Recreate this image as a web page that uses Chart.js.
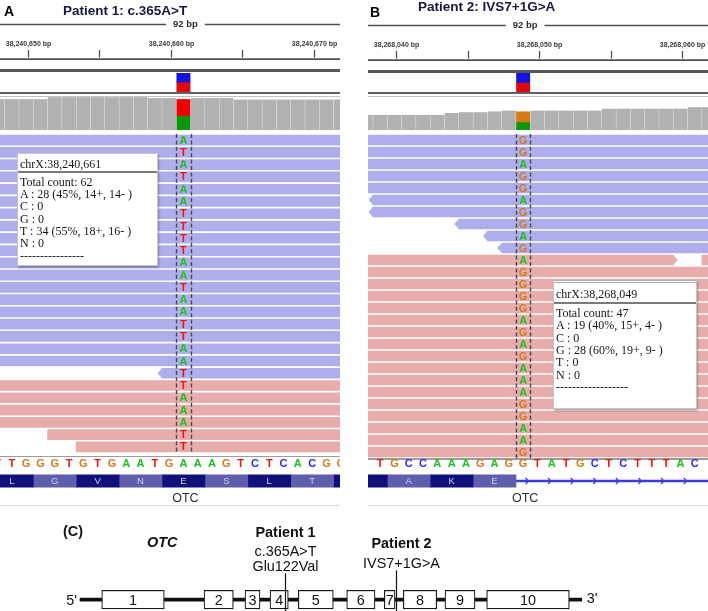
<!DOCTYPE html>
<html>
<head>
<meta charset="utf-8">
<title>OTC variants – IGV views</title>
<script src="https://cdn.jsdelivr.net/npm/chart.js@4.4.1/dist/chart.umd.min.js"></script>
<style>
html,body{margin:0;padding:0;background:#ffffff;}
#root{position:relative;width:708px;height:611px;overflow:hidden;font-family:"Liberation Sans",Arial,sans-serif;}
#root canvas{position:absolute;}
.tip{position:absolute;box-sizing:border-box;background:#fff;border:1px solid #c6c6c6;box-shadow:1px 2px 2px rgba(0,0,0,0.28);font-family:"Liberation Serif","Times New Roman",serif;font-size:12px;line-height:12.3px;color:#161616;white-space:nowrap;}
.tip .hd{border-bottom:2px solid #7a7a7a;}
</style>
</head>
<body>
<div id="root"></div>
<script>
// ======================= DATA =======================
// ---- Panel A : Patient 1, c.365A>T ----
const aTitle = "Patient 1: c.365A>T";
const aWindowLabel = "92 bp";
const aRulerTicks = [38240650, 38240655, 38240660, 38240665, 38240670];
const aVariantPos = 38240661;
const aVariantBand = [0.49, 0.51];           // red (alt) , blue (ref)
const aRefSeqStart = 38240648;
const aRefSeq = "TTGGGTGTGAATGAAAGTCTCACGG";
const aCoverageStart = 38240648;
const aCoverage = [62,62,62,62,66,66,66,66,66,66,66,64,64,62,64,64,64,61,61,61,61,61,61,61,61];
const aAlleles = ["A", "T"];
const aAlleleCounts = [28, 34];
const aReadRow = [0,1,2,3,4,5,6,7,8,9,10,11,12,13,14,15,16,17,18,19,20,21,22,23,24,25];
const aReadStart = [null,null,null,null,null,null,null,null,null,null,null,null,null,null,null,null,null,null,null,38240660,null,null,null,null,38240652,38240654];
const aReadEnd = [null,null,null,null,null,null,null,null,null,null,null,null,null,null,null,null,null,null,null,null,null,null,null,null,null,null];
const aReadStrand = "--------------------++++++";
const aRowBase = "ATATAATTTTAATAATTAATTAAATT";
const aCodonFirst = 38240648;
const aAminoAcids = ["L","G","V","N","E","S","L","T",""];
const aGeneName = "OTC";
const aTooltip = ["chrX:38,240,661","Total count: 62","A : 28 (45%, 14+, 14- )","C : 0","G : 0","T : 34 (55%, 18+, 16- )","N : 0","----------------"];

// ---- Panel B : Patient 2, IVS7+1G>A ----
const bTitle = "Patient 2: IVS7+1G>A";
const bWindowLabel = "92 bp";
const bRulerTicks = [38268040, 38268045, 38268050, 38268055, 38268060];
const bVariantPos = 38268049;
const bVariantBand = [0.47, 0.53];
const bRefSeqStart = 38268039;
const bRefSeq = "TGCCAAAGAGGTATGCTCTTTAC";
const bCoverageStart = 38268038;
const bCoverage = [38,38,38,38,38,38,43,45,45,47,49,47,49,49,49,49,49,54,54,54,54,54,54,58,58];
const bAlleles = ["A", "G"];
const bAlleleCounts = [19, 28];
const bReadRow = [0,1,2,3,4,5,6,7,8,9,10,11,12,13,14,15,16,17,18,19,20,21,22,23,24,25,26,10];
const bReadStart = [null,null,null,null,null,38268039,38268039,38268045,38268047,38268048,null,null,null,null,null,null,null,null,null,null,null,null,null,null,null,null,null,38268062];
const bReadEnd = [null,null,null,null,null,null,null,null,null,null,38268059,null,null,null,null,null,null,null,null,null,null,null,null,null,null,null,null,null];
const bReadStrand = "----------++++++++++++++++++";
const bRowBase = "GGAGGAGGAGAGGGGAGAGAAAGGAAG";
const bCodonFirst = 38268037;
const bAminoAcids = ["","A","K","E"];
const bExonLastBase = 38268048;
const bGeneName = "OTC";
const bTooltip = ["chrX:38,268,049","Total count: 47","A : 19 (40%, 15+, 4- )","C : 0","G : 28 (60%, 19+, 9- )","T : 0","N : 0","------------------"];

// ---- Panel C : OTC gene model (schematic units, 5' end = 0, 3' end = 100) ----
const geneSpan = [0, 100];
const exonNames = ["1","2","3","4","5","6","7","8","9","10"];
const exonStart = [4.33, 24.72, 32.89, 37.87, 43.51, 53.16, 60.65, 64.44, 72.75, 81.06];
const exonEnd   = [16.80, 30.56, 35.88, 41.52, 50.49, 58.80, 62.79, 71.10, 78.73, 97.53];
const mutPatient = ["Patient 1", "Patient 2"];
const mutNotation = [["c.365A>T", "Glu122Val"], ["IVS7+1G>A"]];
const mutPos = [40.86, 62.93];

// ======================= LAYOUT / STYLE =======================
const PX_PER_BP = 14.3;
const BASE_LO = 0.63, BASE_HI = 0.37, BASE_CTR = 0.13;
const READ_COLORS = {"-": "#aeaeec", "+": "#e8acac"};
const LETTER_COLORS = {A: "#1fbf1f", T: "#ee1414", G: "#d27a1e", C: "#2c2cee"};
const COV_COLORS = {A: "#0b960b", T: "#f20000", G: "#d57815", C: "#1010e0"};
const FONT = '"Liberation Sans", Arial, sans-serif';
const root = document.getElementById("root");

function el(css, text) {
  const e = document.createElement("div");
  e.style.cssText = "position:absolute;white-space:nowrap;" + css;
  if (text != null) e.textContent = text;
  root.appendChild(e);
  return e;
}
function chartAt(left, top, w, h, cfg) {
  const c = document.createElement("canvas");
  c.width = w; c.height = h;
  c.style.cssText = `left:${left}px;top:${top}px;width:${w}px;height:${h}px;`;
  root.appendChild(c);
  const base = {responsive: false, maintainAspectRatio: false, animation: false, devicePixelRatio: 1, events: [], layout: {padding: 0}};
  cfg.options = Object.assign(base, cfg.options || {});
  cfg.options.plugins = Object.assign({legend: {display: false}, tooltip: {enabled: false}, title: {display: false}}, cfg.options.plugins || {});
  return new Chart(c, cfg);
}
function fmt(n) { return String(n).replace(/\B(?=(\d{3})+(?!\d))/g, ","); }

function buildPanel(P) {
  const vs = P.tickRef - P.tickRefPx / PX_PER_BP;
  const ve = vs + P.width / PX_PER_BP;
  const L = P.left, W = P.width, dy = P.dy;
  const vc = P.variant - BASE_CTR;
  const xAxis = () => ({type: "linear", min: vs, max: ve, display: false, offset: false, bounds: "data", grid: {display: false}, ticks: {display: false}});

  // ---- ruler ----
  chartAt(L, 16 + dy, W, 46, {
    type: "scatter", data: {datasets: []},
    options: {scales: {x: xAxis(), y: {display: false, min: 0, max: 1}}},
    plugins: [{id: "ruler", afterDraw(ch) {
      const ctx = ch.ctx, x = ch.scales.x;
      ctx.save();
      ctx.fillStyle = "#2e2e2e"; ctx.strokeStyle = "#505050";
      ctx.font = `bold 9.5px ${FONT}`; ctx.textAlign = "center"; ctx.textBaseline = "middle";
      const bx = x.getPixelForValue(vc) + 2;
      const tw = ctx.measureText(P.windowLabel).width;
      ctx.fillText(P.windowLabel, bx, 8.5);
      ctx.lineWidth = 1.5;
      ctx.beginPath(); ctx.moveTo(0, 8.5); ctx.lineTo(bx - tw / 2 - 7, 8.5);
      ctx.moveTo(bx + tw / 2 + 7, 8.5); ctx.lineTo(W, 8.5); ctx.stroke();
      ctx.font = `bold 7px ${FONT}`; ctx.fillStyle = "#3a3a3a";
      P.ticks.forEach(t => {
        const px = Math.round(x.getPixelForValue(t)) + 0.5;
        if (t % 10 === 0) ctx.fillText(fmt(t) + " bp", px, 28);
        ctx.lineWidth = 1.3;
        ctx.beginPath(); ctx.moveTo(px, 34); ctx.lineTo(px, 41.5); ctx.stroke();
      });
      ctx.lineWidth = 1.8;
      ctx.beginPath(); ctx.moveTo(0, 43.2); ctx.lineTo(W, 43.2); ctx.stroke();
      ctx.restore();
    }}]
  });

  // ---- track separators ----
  el(`left:${L}px;top:${68.5 + dy}px;width:${W}px;height:3.2px;background:#575757;`);

  // ---- variant track ----
  chartAt(L, 73, W, 19, {
    type: "bar",
    data: {datasets: [
      {data: [{x: vc, y: P.band[0]}], backgroundColor: "#dc0b0b"},
      {data: [{x: vc, y: P.band[1]}], backgroundColor: "#1414dc"}
    ]},
    options: {datasets: {bar: {barThickness: 13.3, borderWidth: 0}},
      scales: {x: Object.assign(xAxis(), {stacked: true}), y: {display: false, stacked: true, min: 0, max: 1}}}
  });
  el(`left:${L}px;top:92px;width:${W}px;height:1.6px;background:#606060;`);
  el(`left:${L}px;top:96px;width:${W}px;height:1px;background:#c2c2c2;`);

  // ---- coverage ----
  const greyPts = [];
  P.coverage.forEach((c, i) => { const b = P.covStart + i; if (b !== P.variant) greyPts.push({x: b - BASE_CTR, y: c}); });
  const covSets = [{data: greyPts, backgroundColor: "#b1b1b1"}];
  P.alleles.forEach((a, j) => covSets.push({data: [{x: vc, y: P.alleleCounts[j]}], backgroundColor: COV_COLORS[a]}));
  chartAt(L, 97, W, 33, {
    type: "bar", data: {datasets: covSets},
    options: {datasets: {bar: {barThickness: 13.3, borderWidth: 0}},
      scales: {x: Object.assign(xAxis(), {stacked: true}), y: {display: false, stacked: true, min: 0, max: P.covMax}}}
  });

  // ---- reads ----
  const rowLabels = P.rowBase.split("").map((_, i) => "row" + i);
  const layers = {}, order = [], perRow = {}, shapes = [];
  P.readRow.forEach((row, i) => {
    const strand = P.readStrand[i];
    perRow[row] = (perRow[row] || 0) + 1;
    const key = strand + perRow[row];
    if (!layers[key]) { layers[key] = {strand, data: rowLabels.map(() => null)}; order.push(key); }
    const x0 = P.readStart[i] == null ? vs - 2 : P.readStart[i] - BASE_LO;
    const x1 = P.readEnd[i] == null ? ve + 2 : P.readEnd[i] + BASE_HI;
    layers[key].data[row] = [x0, x1];
    if (strand === "-" && P.readStart[i] != null) shapes.push({row, at: x0, dir: -1, strand});
    if (strand === "+" && P.readEnd[i] != null) shapes.push({row, at: x1, dir: 1, strand});
  });
  chartAt(L, 134, W, P.readsH, {
    type: "bar",
    data: {labels: rowLabels, datasets: order.map(k => ({data: layers[k].data, backgroundColor: READ_COLORS[layers[k].strand], grouped: false}))},
    options: {indexAxis: "y", datasets: {bar: {barThickness: 10, borderWidth: 0, borderSkipped: false}},
      scales: {x: xAxis(), y: {type: "category", display: false, offset: true, grid: {display: false}}}},
    plugins: [{id: "reads", afterDatasetsDraw(ch) {
      const ctx = ch.ctx, x = ch.scales.x, y = ch.scales.y, area = ch.chartArea;
      ctx.save();
      shapes.forEach(s => {
        const px = x.getPixelForValue(s.at), py = y.getPixelForValue(s.row);
        ctx.fillStyle = READ_COLORS[s.strand];
        ctx.beginPath(); ctx.moveTo(px, py - 5); ctx.lineTo(px + s.dir * 4.5, py); ctx.lineTo(px, py + 5); ctx.closePath(); ctx.fill();
      });
      ctx.strokeStyle = "#474747"; ctx.lineWidth = 1.4; ctx.setLineDash([4, 2.4]);
      [P.variant - BASE_LO, P.variant + BASE_HI].forEach(v => {
        const px = Math.round(x.getPixelForValue(v)) + 0.5;
        ctx.beginPath(); ctx.moveTo(px, area.top); ctx.lineTo(px, area.bottom); ctx.stroke();
      });
      ctx.setLineDash([]);
      ctx.font = `bold 11px ${FONT}`; ctx.textAlign = "center"; ctx.textBaseline = "middle";
      const cx = x.getPixelForValue(vc);
      P.rowBase.split("").forEach((b, r) => { ctx.fillStyle = LETTER_COLORS[b]; ctx.fillText(b, cx, y.getPixelForValue(r) + 0.5); });
      ctx.restore();
    }}]
  });
  el(`left:${L}px;top:${P.sepY}px;width:${W}px;height:1.8px;background:#9c9c9c;`);

  // ---- sequence / amino acid / gene track ----
  const trackLabels = ["seq", "aa", "gene"];
  const codonSets = P.aminoAcids.map((aa, k) => {
    const first = P.codonFirst + 3 * k;
    return {data: [null, [first - BASE_LO, first + 2 + BASE_HI], null], backgroundColor: k % 2 === 0 ? "#10107a" : "#5e5eac", barThickness: 12.4, grouped: false};
  });
  if (P.exonLast != null) codonSets.push({data: [null, [P.exonLast + BASE_HI, ve + 2], null], backgroundColor: "#3c3cdc", barThickness: 1.6, grouped: false});
  chartAt(L, 455, W, 52, {
    type: "bar", data: {labels: trackLabels, datasets: codonSets},
    options: {indexAxis: "y", datasets: {bar: {borderWidth: 0, borderSkipped: false}},
      scales: {x: xAxis(), y: {type: "category", display: false, offset: true, grid: {display: false}}}},
    plugins: [{id: "seq", afterDatasetsDraw(ch) {
      const ctx = ch.ctx, x = ch.scales.x, y = ch.scales.y, area = ch.chartArea;
      ctx.save();
      ctx.textAlign = "center"; ctx.textBaseline = "middle";
      ctx.font = `bold 11px ${FONT}`;
      P.seq.split("").forEach((b, i) => { ctx.fillStyle = LETTER_COLORS[b]; ctx.fillText(b, x.getPixelForValue(P.seqStart + i - BASE_CTR), y.getPixelForValue(0) + 0.5); });
      ctx.font = `9.5px ${FONT}`; ctx.fillStyle = "#cfcfee";
      P.aminoAcids.forEach((aa, k) => { if (aa) ctx.fillText(aa, x.getPixelForValue(P.codonFirst + 3 * k + 1 - BASE_CTR), y.getPixelForValue(1) + 0.5); });
      if (P.exonLast != null) {
        ctx.strokeStyle = "#3c3cdc"; ctx.lineWidth = 1.2;
        const yc = y.getPixelForValue(1);
        for (let px = x.getPixelForValue(P.exonLast + BASE_HI) + 12; px < area.right; px += 22.6) {
          ctx.beginPath(); ctx.moveTo(px - 2.5, yc - 3); ctx.lineTo(px + 0.5, yc); ctx.lineTo(px - 2.5, yc + 3); ctx.stroke();
        }
      }
      ctx.font = `12.5px ${FONT}`; ctx.fillStyle = "#2e2e2e";
      ctx.fillText(P.geneName, x.getPixelForValue(vc) + 2, y.getPixelForValue(2));
      ctx.restore();
    }}]
  });
  el(`left:${L}px;top:504.5px;width:${W}px;height:1.8px;background:#dadada;`);

  // ---- IGV popup ----
  const T = P.tip;
  const d = el(`left:${T.left}px;top:${T.top}px;width:${T.w}px;height:${T.h}px;${T.extra || ""}`);
  d.className = "tip";
  const hd = document.createElement("div"); hd.className = "hd";
  hd.style.cssText = `padding:${T.padTop}px 0 ${T.padHd}px ${T.padLeft}px;`;
  hd.textContent = P.tooltip[0]; d.appendChild(hd);
  const body = document.createElement("div");
  body.style.cssText = `padding:${T.padBody}px 0 0 ${T.padLeft}px;`;
  P.tooltip.slice(1).forEach(t => { const r = document.createElement("div"); r.textContent = t; body.appendChild(r); });
  d.appendChild(body);
}

buildPanel({
  left: 0, width: 340, dy: 0, tickRef: 38240660, tickRefPx: 171,
  windowLabel: aWindowLabel, ticks: aRulerTicks, variant: aVariantPos, band: aVariantBand,
  covStart: aCoverageStart, coverage: aCoverage, covMax: 67, alleles: aAlleles, alleleCounts: aAlleleCounts,
  readRow: aReadRow, readStart: aReadStart, readEnd: aReadEnd, readStrand: aReadStrand, rowBase: aRowBase, readsH: 319,
  sepY: 455.5, seqStart: aRefSeqStart, seq: aRefSeq, codonFirst: aCodonFirst, aminoAcids: aAminoAcids, exonLast: null,
  geneName: aGeneName, tooltip: aTooltip,
  tip: {left: 17, top: 153, w: 141, h: 113, padTop: 4, padHd: 1, padLeft: 2, padBody: 2.5}
});
buildPanel({
  left: 368, width: 340, dy: 1, tickRef: 38268050, tickRefPx: 171.3,
  windowLabel: bWindowLabel, ticks: bRulerTicks, variant: bVariantPos, band: bVariantBand,
  covStart: bCoverageStart, coverage: bCoverage, covMax: 85, alleles: bAlleles, alleleCounts: bAlleleCounts,
  readRow: bReadRow, readStart: bReadStart, readEnd: bReadEnd, readStrand: bReadStrand, rowBase: bRowBase, readsH: 324,
  sepY: 458.3, seqStart: bRefSeqStart, seq: bRefSeq, codonFirst: bCodonFirst, aminoAcids: bAminoAcids, exonLast: bExonLastBase,
  geneName: bGeneName, tooltip: bTooltip,
  tip: {left: 553, top: 280, w: 144, h: 129, padTop: 5, padHd: 1.4, padLeft: 2, padBody: 3.5, extra: "border-top:3px double #b0b0b0;"}
});

// ---- Panel C : gene model ----
const C_ORIGIN_PX = 80, C_UNIT_PX = 5.017;
chartAt(0, 520, 708, 91, {
  type: "bar",
  data: {datasets: [
    {data: exonStart.map((s, i) => ({x: [s, exonEnd[i]], y: 0})), backgroundColor: "#ffffff", borderColor: "#1a1a1a", borderWidth: 1.2, borderSkipped: false, barThickness: 18.6, grouped: false, order: 0},
    {data: [{x: geneSpan, y: 0}], backgroundColor: "#111111", borderWidth: 0, barThickness: 3.2, grouped: false, order: 1}
  ]},
  options: {indexAxis: "y",
    scales: {x: {type: "linear", min: -C_ORIGIN_PX / C_UNIT_PX, max: (708 - C_ORIGIN_PX) / C_UNIT_PX, display: false, offset: false, bounds: "data"},
             y: {type: "linear", min: -0.5, max: 3.5, display: false, offset: false, bounds: "data"}}},
  plugins: [{id: "gene", afterDatasetsDraw(ch) {
    const ctx = ch.ctx, x = ch.scales.x, y = ch.scales.y;
    const gy = y.getPixelForValue(0);
    ctx.save();
    ctx.fillStyle = "#111"; ctx.textBaseline = "alphabetic";
    ctx.font = `14.4px ${FONT}`; ctx.textAlign = "center";
    exonNames.forEach((n, i) => ctx.fillText(n, x.getPixelForValue((exonStart[i] + exonEnd[i]) / 2), gy + 5.4));
    ctx.textAlign = "right"; ctx.fillText("5'", x.getPixelForValue(geneSpan[0]) - 3, gy + 5.4);
    ctx.textAlign = "left"; ctx.fillText("3'", x.getPixelForValue(geneSpan[1]) + 5, gy + 3.7);
    const bottoms = [51, 48], dxs = [0, 5];
    mutPos.forEach((p, i) => {
      const px = Math.round(x.getPixelForValue(p)) + 0.5;
      ctx.strokeStyle = "#111"; ctx.lineWidth = 1.2;
      ctx.beginPath(); ctx.moveTo(px, bottoms[i] + 2.3); ctx.lineTo(px, ch.height); ctx.stroke();
      ctx.textAlign = "center";
      let by = bottoms[i];
      const notes = mutNotation[i].slice().reverse();
      ctx.font = `14.4px ${FONT}`;
      notes.forEach((t, k) => { ctx.fillText(t, px + dxs[i], by); if (k < notes.length - 1) by -= 15; });
      by -= (notes.length > 1 ? 19 : 20);
      ctx.font = `bold 14.4px ${FONT}`;
      ctx.fillText(mutPatient[i], px + dxs[i], by);
    });
    ctx.restore();
  }}]
});

// ---- free text labels ----
el(`left:4px;top:4px;font:bold 14px ${FONT};line-height:1;color:#000;`, "A");
el(`left:63px;top:4.4px;font:bold 13.5px ${FONT};line-height:1;color:#17173f;`, aTitle);
el(`left:370px;top:5.4px;font:bold 14px ${FONT};line-height:1;color:#000;`, "B");
el(`left:418px;top:-0.4px;font:bold 13.5px ${FONT};line-height:1;color:#17173f;`, bTitle);
el(`left:63px;top:524.2px;font:bold 14.4px ${FONT};line-height:1;color:#111;`, "(C)");
el(`left:147px;top:535.4px;font:italic bold 14.4px ${FONT};line-height:1;color:#111;`, "OTC");
</script>
</body>
</html>
